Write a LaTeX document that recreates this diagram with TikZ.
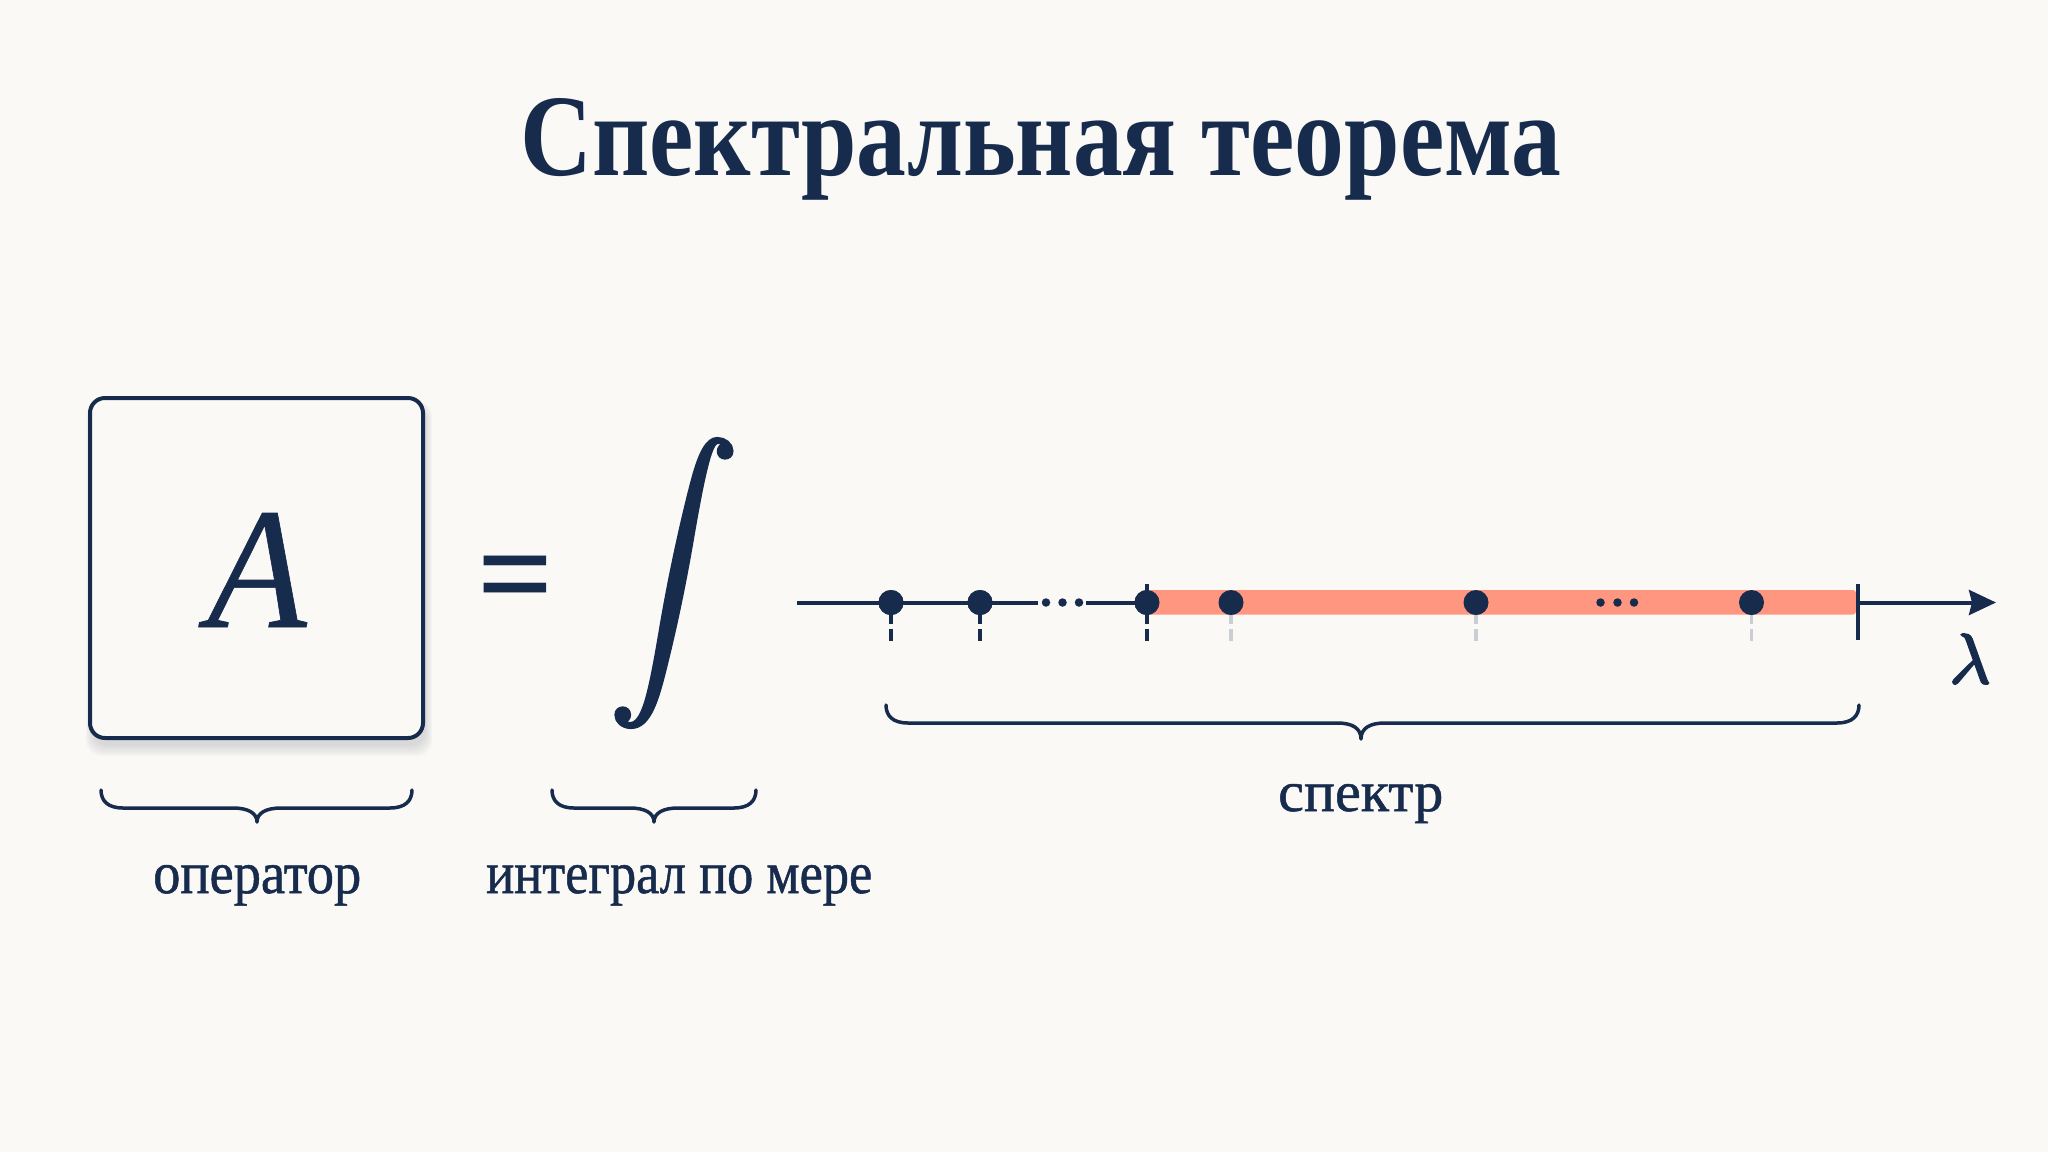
\documentclass[tikz,border=0pt]{standalone}
\usepackage{fontspec}
\usepackage{graphicx}
\setmainfont{Liberation Serif}
\newfontfamily\eqfont{Noto Sans}
\usetikzlibrary{arrows.meta}
\definecolor{navy}{HTML}{172B4D}
\definecolor{bg}{HTML}{FAF9F6}
\definecolor{salmon}{HTML}{FF9680}
\definecolor{tickgray}{HTML}{C9CDD4}
\definecolor{shadowc}{HTML}{8A8F98}
\newcommand\mybrace[6]{%
  \draw[brc] (#1,#4) .. controls (#1,#5-7) and (#1+7,#5) .. (#1+22,#5)
    -- (#3-24,#5) .. controls (#3-9,#5) and (#3,#5+5) .. (#3,#6)
    .. controls (#3,#5+5) and (#3+9,#5) .. (#3+24,#5)
    -- (#2-22,#5) .. controls (#2-7,#5) and (#2,#5-7) .. (#2,#4);}
\newcommand\heavy[2]{\special{pdf:literal direct 2 Tr #1 w}#2\special{pdf:literal direct 0 Tr}}
\begin{document}
\begin{tikzpicture}[x=1pt,y=-1pt,
  lbl/.style={inner sep=0pt, anchor=base west, text=navy},
  dotn/.style={circle, fill=navy, minimum size=25pt, inner sep=0pt},
  edot/.style={circle, fill=navy, minimum size=8.5pt, inner sep=0pt},
  axis/.style={draw=navy, line width=4pt},
  tickd/.style={draw=navy, line width=3.5pt, dash pattern=on 21pt off 5pt on 12pt off 100pt},
  tickg/.style={draw=tickgray, line width=3.5pt, dash pattern=on 21pt off 5pt on 12pt off 100pt},
  brc/.style={navy, line width=3.5pt, line cap=round, line join=round}]
\useasboundingbox (0,0) rectangle (2048,1152);
\fill[bg] (0,0) rectangle (2048,1152);

% title
\node[lbl] (title) at (520,175) {\resizebox{1041pt}{77pt}{\bfseries Спектральная теорема}};

% operator box with soft shadow
\foreach \s in {0,2,4,6,8,10}
  \fill[shadowc, opacity=0.05, rounded corners=16pt] (92-\s*0.6,404-\s*0.3) rectangle (426+\s*0.6,746+\s);
\node[draw=navy, fill=bg, line width=4pt, rounded corners=15pt, minimum width=333pt, minimum height=340pt, inner sep=0pt] (box) at (256.5,568) {};
\node[inner sep=0pt, anchor=base, text=navy] (A) at (257,627) {\resizebox{99pt}{114pt}{\heavy{0.04}{\itshape A}}};

% equals and integral
\node[inner sep=0pt, text=navy] (eq) at (516,589) {\resizebox{78pt}{!}{\eqfont\bfseries =}};
\node[inner sep=0pt, text=navy] (int) at (674,583) {\resizebox*{!}{288pt}{\heavy{0.32}{$\displaystyle\int$}}};

% number line
\coordinate (ax0) at (797,602.5);
\coordinate (g1) at (1038,602.5);
\coordinate (g2) at (1086,602.5);
\coordinate (be) at (1858,602.5);
\coordinate (axE) at (1996,602.5);
\node[dotn] (d1) at (891,602.5) {};
\node[dotn] (d2) at (980,602.5) {};
\node[dotn] (d3) at (1147,602.5) {};
\node[dotn] (d4) at (1231,602.5) {};
\node[dotn] (d5) at (1476,602.5) {};
\node[dotn] (d6) at (1751.5,602.5) {};
\draw[axis] (ax0) -- (g1);
\draw[axis] (g2) -- (d3.center);
\fill[salmon, rounded corners=3pt] (1147,590) rectangle (1856,614.5);
\draw[axis, -{Stealth[length=27pt, width=25pt, inset=3pt]}] (be) -- (axE);
\coordinate (t1) at (891,641);
\coordinate (t2) at (980,641);
\coordinate (t3) at (1147,641);
\coordinate (t3u) at (1147,584);
\coordinate (t4) at (1231,641);
\coordinate (t5) at (1476,641);
\coordinate (t6) at (1751.5,641);
\coordinate (bu) at (1858,584);
\coordinate (bd) at (1858,640);
\draw[tickd] (d1.center) -- (t1);
\draw[tickd] (d2.center) -- (t2);
\draw[tickd] (d3.center) -- (t3);
\draw[navy, line width=3.5pt] (t3u) -- (d3.center);
\draw[tickg] (d4.center) -- (t4);
\draw[tickg] (d5.center) -- (t5);
\draw[tickg] (d6.center) -- (t6);
\draw[navy, line width=4pt] (bu) -- (bd);
\foreach \n in {d1,d2,d3,d4,d5,d6} \fill[navy] (\n.center) circle (12.5pt);
\node[edot] (e1) at (1046,602.5) {};
\node[edot] (e2) at (1062.5,602.5) {};
\node[edot] (e3) at (1079,602.5) {};
\node[edot] (e4) at (1600.5,602.5) {};
\node[edot] (e5) at (1617.5,602.5) {};
\node[edot] (e6) at (1634,602.5) {};
\node[inner sep=0pt, anchor=base, text=navy] (lam) at (1970,683) {\resizebox*{!}{49pt}{\heavy{0.3}{$\lambda$}}};

% braces
\mybrace{101}{412}{257}{790}{808}{822}
\mybrace{552}{756}{654}{790}{808}{822}
\mybrace{886}{1859}{1361}{705}{723}{739}

% labels
\node[lbl] (opl) at (153,893) {\resizebox{208pt}{28pt}{\heavy{0.09}{оператор}}};
\node[lbl] (intl) at (486,893) {\resizebox{386pt}{28pt}{\heavy{0.09}{интеграл по мере}}};
\node[lbl] (spl) at (1278,811) {\resizebox{165pt}{27pt}{\heavy{0.09}{спектр}}};
\end{tikzpicture}
\end{document}
